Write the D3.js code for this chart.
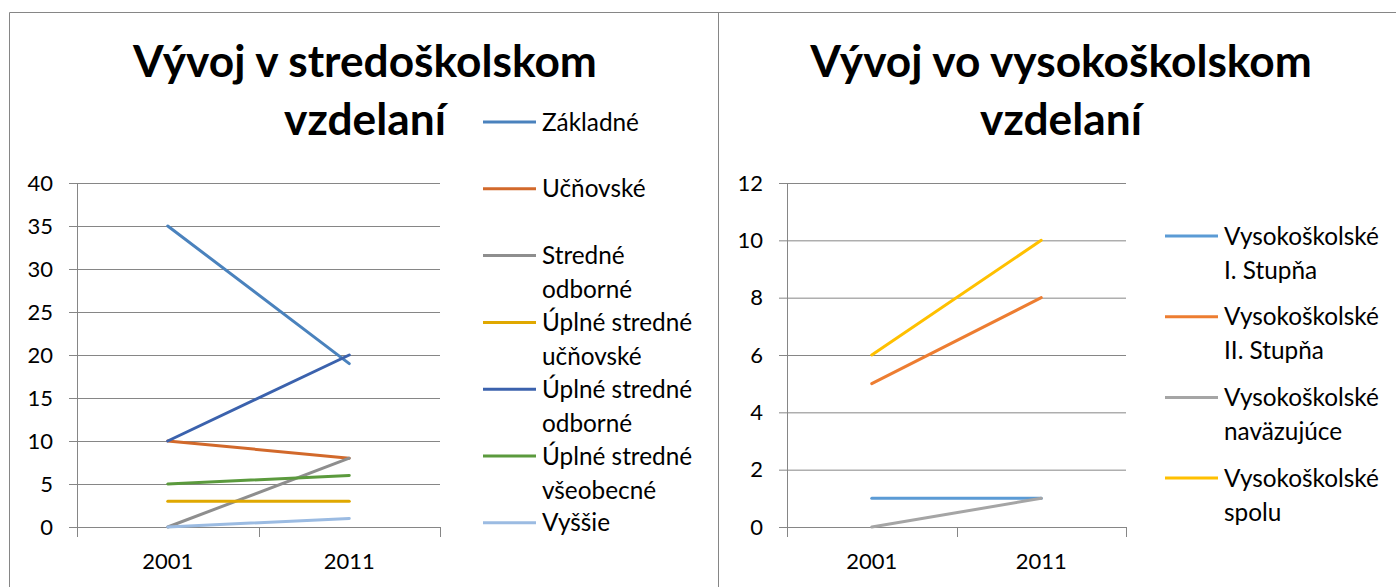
<!DOCTYPE html>
<html lang="sk">
<head>
<meta charset="utf-8">
<script src="https://cdn.jsdelivr.net/npm/d3@7"></script>
<style>
  * { margin: 0; padding: 0; }
  body { background: #fff; width: 1396px; height: 587px; overflow: hidden; }
  svg { font-family: Lato, "Open Sans", sans-serif; }
  .axis path { display: none; }
  .axis line { stroke: #868686; }
  .axis text { fill: #000; }
</style>
</head>
<body>
<svg id="chart" width="1396" height="587"></svg>
<script>
// shared categories
const years = ['2001', '2011'];

// left chart: secondary education
const titleLeft = ['Vývoj v stredoškolskom', 'vzdelaní'];
const seriesLeft = [['Základné'], ['Učňovské'], ['Stredné', 'odborné'], ['Úplné stredné', 'učňovské'],
                    ['Úplné stredné', 'odborné'], ['Úplné stredné', 'všeobecné'], ['Vyššie']];
const valuesLeft = [[35, 19], [10, 8], [0, 8], [3, 3], [10, 20], [5, 6], [0, 1]];
const colorsLeft = ['#4a82bd', '#d2692b', '#8e8e8e', '#e0a800', '#3b62ad', '#5b9a3d', '#9bbbe2'];
const ticksLeft = [0, 5, 10, 15, 20, 25, 30, 35, 40];

// right chart: university education
const titleRight = ['Vývoj vo vysokoškolskom', 'vzdelaní'];
const seriesRight = [['Vysokoškolské', 'I. Stupňa'], ['Vysokoškolské', 'II. Stupňa'],
                     ['Vysokoškolské', 'naväzujúce'], ['Vysokoškolské', 'spolu']];
const valuesRight = [[1, 1], [5, 8], [0, 1], [6, 10]];
const colorsRight = ['#5b9bd5', '#ed7d31', '#a5a5a5', '#ffc000'];
const ticksRight = [0, 2, 4, 6, 8, 10, 12];

const svg = d3.select('#chart');

// frame lines
svg.append('path')
   .attr('d', 'M9.5,587V12.5H1396M718.5,12.5V587')
   .attr('fill', 'none')
   .attr('stroke', '#868686');

// size text so that a sample string gets the wanted width
function fitSize(sample, weight, base, target) {
    const t = svg.append('text').attr('font-size', base).attr('font-weight', weight).text(sample);
    const w = t.node().getComputedTextLength();
    t.remove();
    return base * target / w;
}
const titleSize = fitSize(titleLeft[0], 700, 44, 464);
const legendSize = fitSize('Vysokoškolské', 400, 20, 155);
const tickSize = fitSize('2001', 400, 22, 51);

function drawChart(opt) {
    const g = svg.append('g');
    const x = d3.scaleBand().domain(years).range([opt.x0, opt.x1]);
    const y = d3.scaleLinear().domain([0, d3.max(opt.ticks)]).range([527, 183]);
    const w = opt.x1 - opt.x0;

    // title
    g.append('text')
     .attr('x', opt.titleX)
     .attr('text-anchor', 'middle')
     .attr('font-size', titleSize)
     .attr('font-weight', 700)
     .selectAll('tspan')
     .data(opt.title)
     .join('tspan')
     .attr('x', opt.titleX)
     .attr('y', (d, i) => 77 + i * 58)
     .text(d => d);

    // y axis + gridlines
    const ya = g.append('g')
        .attr('class', 'axis')
        .attr('transform', `translate(${opt.x0},0)`)
        .call(d3.axisLeft(y).tickValues(opt.ticks).tickSize(8).tickPadding(16).tickSizeOuter(0))
        .attr('font-family', null)
        .attr('font-size', tickSize);
    ya.selectAll('line').attr('x1', w).attr('x2', -8);

    // vertical axis line
    g.append('line')
     .attr('x1', opt.x0 + 0.5).attr('x2', opt.x0 + 0.5)
     .attr('y1', y(d3.max(opt.ticks))).attr('y2', y(0))
     .attr('stroke', '#868686');

    // x axis labels
    g.append('g')
     .attr('class', 'axis')
     .attr('transform', `translate(0,${y(0)})`)
     .call(d3.axisBottom(x).tickSize(0).tickPadding(26))
     .attr('font-family', null)
     .attr('font-size', tickSize);

    // category boundary ticks
    g.selectAll('.bound')
     .data(years.map(d => x(d)).concat([x.range()[1]]))
     .join('line')
     .attr('x1', d => Math.round(d) + 0.5).attr('x2', d => Math.round(d) + 0.5)
     .attr('y1', y(0)).attr('y2', y(0) + 10)
     .attr('stroke', '#868686');

    // series lines
    const line = d3.line()
        .x((d, i) => x(years[i]) + x.bandwidth() / 2)
        .y(d => y(d));
    g.selectAll('.series')
     .data(opt.values)
     .join('path')
     .attr('fill', 'none')
     .attr('stroke', (d, i) => opt.colors[i])
     .attr('stroke-width', 3)
     .attr('stroke-linecap', 'round')
     .attr('d', line);

    // legend
    const lg = g.selectAll('.legend')
        .data(opt.names)
        .join('g')
        .attr('transform', (d, i) => `translate(${opt.legX},${opt.legY + i * opt.legStep})`);
    lg.append('line')
      .attr('x1', 0).attr('x2', 53)
      .attr('stroke', (d, i) => opt.colors[i])
      .attr('stroke-width', 3);
    lg.append('text')
      .attr('font-size', legendSize)
      .selectAll('tspan')
      .data(d => d)
      .join('tspan')
      .attr('x', 59)
      .attr('y', (d, i) => i * 34)
      .attr('dy', '0.35em')
      .text(d => d);
}

drawChart({title: titleLeft, titleX: 365, names: seriesLeft, values: valuesLeft, colors: colorsLeft,
           ticks: ticksLeft, x0: 77, x1: 440, legX: 483, legY: 122, legStep: 66.8});
drawChart({title: titleRight, titleX: 1061, names: seriesRight, values: valuesRight, colors: colorsRight,
           ticks: ticksRight, x0: 787, x1: 1126, legX: 1165, legY: 236, legStep: 80.7});
</script>
</body>
</html>
